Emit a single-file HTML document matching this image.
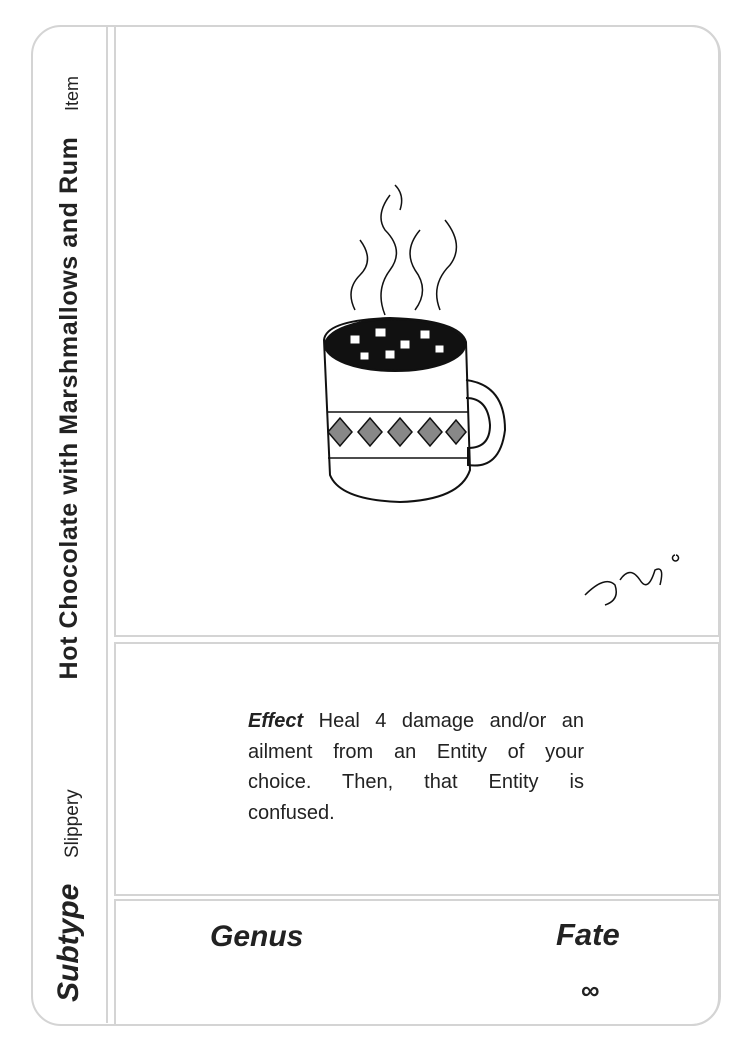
<!DOCTYPE html>
<html><head><meta charset="utf-8"><style>
body{margin:0;background:#fff;width:750px;height:1050px;position:relative;overflow:hidden;font-family:"Liberation Sans",sans-serif;color:#222}
.abs{position:absolute}
.rot{position:absolute;transform:rotate(-90deg);transform-origin:0 0;white-space:nowrap}
.ln{text-align:justify;text-align-last:justify;height:30.5px;white-space:nowrap}
</style></head><body>
<div class="abs" style="left:31px;top:25px;width:686px;height:997px;border:2px solid #d4d4d4;border-radius:30px"></div>
<div class="abs" style="left:106px;top:26px;width:2px;height:997px;background:#d4d4d4"></div>
<div class="abs" style="left:114px;top:25px;width:602px;height:608px;border:2px solid #d4d4d4;border-radius:0 28px 0 0"></div>
<div class="abs" style="left:114px;top:642px;width:602px;height:250px;border:2px solid #d4d4d4"></div>
<div class="abs" style="left:114px;top:899px;width:602px;height:123px;border:2px solid #d4d4d4;border-radius:0 0 28px 0"></div>

<div class="rot" style="left:62px;top:111px;font-size:18px">Item</div>
<div class="rot" style="left:55px;top:682px;font-size:25px;font-weight:bold;letter-spacing:0.6px;width:548px;text-align:center">Hot Chocolate with Marshmallows and Rum</div>
<div class="rot" style="left:62px;top:858px;font-size:19px">Slippery</div>
<div class="rot" style="left:52px;top:1002px;font-size:30px;font-weight:bold;font-style:italic">Subtype</div>

<svg class="abs" style="left:300px;top:170px" width="220" height="340" viewBox="0 0 220 340" fill="none" stroke="#111" stroke-width="2">
<path d="M24 170 Q26 150 90 148 Q160 150 166 172 L170 300 Q160 330 100 332 Q40 330 30 305 Z" fill="#fff"/>
<ellipse cx="95" cy="175" rx="70" ry="26" fill="#111"/>
<g fill="#fff" stroke="#111" stroke-width="1"><rect x="50" y="165" width="10" height="9"/><rect x="75" y="158" width="11" height="9"/><rect x="100" y="170" width="10" height="9"/><rect x="120" y="160" width="10" height="9"/><rect x="85" y="180" width="10" height="9"/><rect x="135" y="175" width="9" height="8"/><rect x="60" y="182" width="9" height="8"/></g>
<path d="M166 210 Q205 215 205 260 Q200 300 168 295 L168 278 Q190 278 190 255 Q188 228 166 228"/>
<path d="M28 242 L168 242 M28 288 L168 288" stroke-width="1.5"/>
<path d="M28 262 L40 248 L52 262 L40 276 Z M58 262 L70 248 L82 262 L70 276 Z M88 262 L100 248 L112 262 L100 276 Z M118 262 L130 248 L142 262 L130 276 Z M146 262 L156 250 L166 262 L156 274 Z" fill="#888" stroke-width="1.5"/>
<path d="M55 140 q-10 -20 5 -35 q15 -15 0 -35 M85 145 q-10 -25 5 -45 q15 -20 -5 -40 q-10 -15 5 -35 M115 140 q15 -20 0 -40 q-12 -20 5 -40 M140 140 q-10 -25 10 -45 q15 -20 -5 -45 M100 40 q5 -15 -5 -25" stroke-width="1.5"/>
</svg>
<svg class="abs" style="left:580px;top:545px" width="110" height="65" fill="none" stroke="#111" stroke-width="1.5"><path d="M5 50 Q25 30 35 40 Q40 55 25 60 M40 35 Q50 20 60 35 Q68 48 75 25 Q85 20 80 40 M95 10 a3 3 0 1 0 1 0"/></svg>

<div class="abs" style="left:248px;top:706px;width:336px;font-size:20px;line-height:30.5px">
<div class="ln"><b><i>Effect</i></b> Heal 4 damage and/or an</div>
<div class="ln">ailment from an Entity of your</div>
<div class="ln">choice. Then, that Entity is</div>
<div style="white-space:nowrap">confused.</div>
</div>

<div class="abs" style="left:210px;top:920px;font-size:30px;font-weight:bold;font-style:italic">Genus</div>
<div class="abs" style="left:556px;top:917px;font-size:31px;font-weight:bold;font-style:italic">Fate</div>
<div class="abs" style="left:581px;top:975px;font-size:26px;font-weight:bold">∞</div>
</body></html>
